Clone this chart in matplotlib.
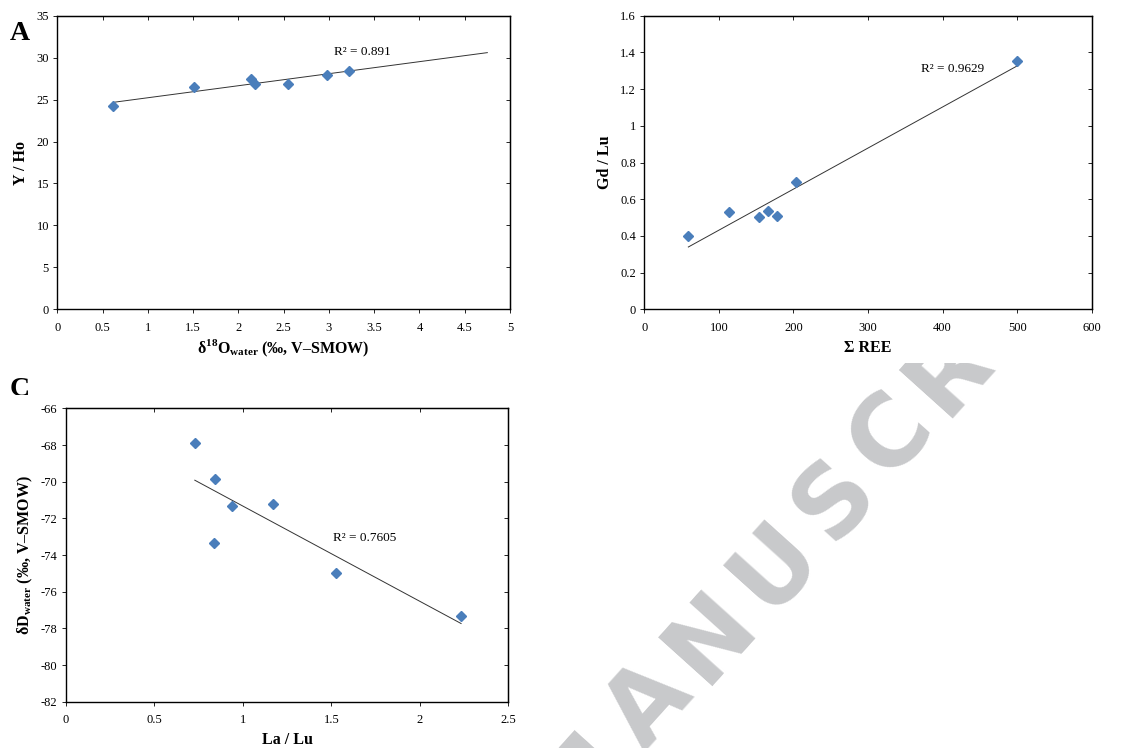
import numpy as np
import matplotlib
matplotlib.use("Agg")
import matplotlib.pyplot as plt
from matplotlib.ticker import FuncFormatter, MultipleLocator
from matplotlib.patches import Rectangle
from matplotlib.transforms import Bbox, TransformedBbox

plt.rcParams['font.family'] = ['Liberation Serif', 'DejaVu Serif']
plt.rcParams['mathtext.fontset'] = 'custom'
plt.rcParams['mathtext.rm'] = 'Liberation Serif'
plt.rcParams['mathtext.bf'] = 'Liberation Serif:bold'

# ===== Data =====
# A: delta18O water vs Y/Ho
d18o = [0.611, 1.506, 2.143, 2.183, 2.544, 2.979, 3.222]
y_ho = [24.23, 26.46, 27.49, 26.90, 26.86, 27.93, 28.41]
r2_a = "R² = 0.891"

# B: sum REE vs Gd/Lu
sum_ree = [59.0, 113.1, 153.4, 165.4, 177.5, 203.0, 499.4]
gd_lu = [0.400, 0.528, 0.501, 0.536, 0.508, 0.694, 1.353]
r2_b = "R² = 0.9629"

# C: La/Lu vs deltaD water
la_lu = [0.729, 0.843, 0.939, 0.840, 1.173, 1.527, 2.233]
dd_water = [-67.91, -69.87, -71.33, -73.33, -71.20, -74.98, -77.35]
r2_c = "R² = 0.7605"

W, H = 1135, 748
fig = plt.figure(figsize=(W / 100, H / 100), dpi=100)

BLUE = '#4A7EBB'
fmt = FuncFormatter(lambda v, p: '%g' % round(v, 6))


def make_panel(rect, x, y, xlim, ylim, xstep, ystep, xlabel, ylabel,
               r2, r2pos, xlab_y, ylab_x, fit_to=None):
    ax = fig.add_axes(rect)
    ax.set_xlim(*xlim)
    ax.set_ylim(*ylim)
    ax.xaxis.set_major_locator(MultipleLocator(xstep))
    ax.yaxis.set_major_locator(MultipleLocator(ystep))
    ax.xaxis.set_major_formatter(fmt)
    ax.yaxis.set_major_formatter(fmt)
    ax.tick_params(direction='out', length=3, width=0.6, labelsize=9)
    ax.tick_params(axis='x', pad=6)
    ax.tick_params(axis='y', pad=3)
    for s in ax.spines.values():
        s.set_linewidth(1.0)

    # mirrored inward ticks on top/right, no labels
    sx = ax.secondary_xaxis('top')
    sx.xaxis.set_major_locator(MultipleLocator(xstep))
    sx.tick_params(direction='in', length=3, width=0.6, labeltop=False)
    sy = ax.secondary_yaxis('right')
    sy.yaxis.set_major_locator(MultipleLocator(ystep))
    sy.tick_params(direction='in', length=3, width=0.6, labelright=False)

    # linear trendline
    xa = np.array(x)
    ya = np.array(y)
    k, b = np.polyfit(xa, ya, 1)
    x0 = xa.min()
    x1 = xa.max() if fit_to is None else fit_to
    ax.plot([x0, x1], [k * x0 + b, k * x1 + b], color='#333333', lw=0.7,
            zorder=2)
    ax.plot(x, y, linestyle='none', marker='D', ms=5.3, color=BLUE,
            markeredgecolor=BLUE, zorder=3)

    ax.text(r2pos[0], r2pos[1], r2, ha='center', va='center', fontsize=9.5)
    ax.set_xlabel(xlabel, fontsize=11.5, fontweight='bold')
    ax.set_ylabel(ylabel, fontsize=11.5, fontweight='bold')
    ax.xaxis.set_label_coords(0.5, xlab_y)
    ax.yaxis.set_label_coords(ylab_x, 0.5)
    return ax


# ===== watermark (behind the panel images), wide letter spacing =====
wm_word = "MANUSCRIPT"
wm_adv = [0.995, 0.774, 0.837, 0.812, 0.720, 0.734, 0.770, 0.372, 0.733, 0.682]
ang = np.radians(48)
u = np.array([np.cos(ang), -np.sin(ang)])       # baseline dir, pixel coords
em = 116.0
n_origin = np.array([704.0, 686.0])
pos = n_origin - (wm_adv[0] + wm_adv[1]) * em * u
for ch, adv in zip(wm_word, wm_adv):
    fig.text(pos[0] / W, 1 - pos[1] / H, ch, rotation=48,
             rotation_mode='anchor', ha='left', va='baseline', fontsize=71,
             fontweight='bold', family='DejaVu Sans', color='#C8C9CB',
             zorder=-3)
    pos = pos + adv * em * u

# white panel backgrounds hide the watermark
for (l, t, r, bt) in [(0, 0, 565, 362), (575, 0, W, 363), (0, 368, 557, H)]:
    fig.patches.append(Rectangle((l / W, 1 - bt / H), (r - l) / W, (bt - t) / H,
                                 transform=fig.transFigure, facecolor='white',
                                 edgecolor='none', zorder=-2))

axA = make_panel([0.0505, 0.5865, 0.3988, 0.3925], d18o, y_ho, (0, 5), (0, 35),
                 0.5, 5,
                 r'δ$^{\mathbf{18}}$O$_{\mathbf{water}}$ (‰, V–SMOW)',
                 'Y / Ho', r2_a, (3.37, 30.67), -0.098, -0.062, fit_to=4.75)
axB = make_panel([0.5677, 0.5865, 0.3942, 0.3925], sum_ree, gd_lu, (0, 600),
                 (0, 1.6), 100, 0.2, 'Σ REE', 'Gd / Lu', r2_b, (413.6, 1.308),
                 -0.105, -0.069)
axC = make_panel([0.0579, 0.0619, 0.3900, 0.3922], la_lu, dd_water, (0, 2.5),
                 (-82, -66), 0.5, 2, 'La / Lu',
                 r'δD$_{\mathbf{water}}$ (‰, V–SMOW)', r2_c, (1.688, -73.06),
                 -0.103, -0.069)

# panel letters
fig.text(10 / W, 1 - 40 / H, 'A', fontsize=20, fontweight='bold',
         ha='left', va='baseline')
tc = fig.text(10 / W, 1 - 377 / H, 'C', fontsize=20, fontweight='bold',
              ha='left', va='top')
tc.set_clip_on(True)
tc.set_clip_box(TransformedBbox(Bbox([[0, 1 - 395 / H], [0.1, 1]]),
                                fig.transFigure))

fig.savefig('out.png', dpi=100)
